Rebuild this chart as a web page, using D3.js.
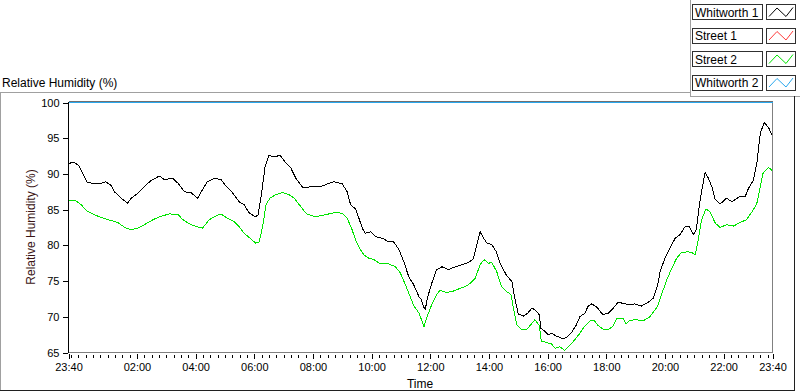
<!DOCTYPE html>
<html lang="en">
<head>
    <meta charset="UTF-8">
    <title>Relative Humidity</title>
    <style>
        body { margin: 0; background: #fff; }
        svg { display: block; font-family: "Liberation Sans", Arial, sans-serif; }
    </style>
</head>
<body>
    <svg width="800" height="392" id="svg"></svg>
    <script src="https://d3js.org/d3.v7.min.js"></script>
    <script>
        // readings: minutes after 23:40, relative humidity (%)
        let w1Min = [1, 12, 22, 29, 38, 50, 63, 76, 87, 94, 108, 121, 128, 142, 155, 169, 186, 196, 213, 224,
            237, 250, 264, 274, 284, 298, 312, 322, 335, 349, 359, 370, 383, 388, 395, 402, 410, 421, 433, 445,
            455, 465, 479, 498, 519, 533, 543, 560, 570, 577, 587, 594, 601, 607, 618, 628, 642, 655, 665, 676,
            686, 696, 706, 717, 722, 726, 730, 734, 743, 753, 764, 777, 791, 805, 818, 828, 834, 842, 849, 856,
            866, 875, 883, 895, 907, 914, 920, 931, 939, 948, 954, 963, 966, 974, 981, 988, 998, 1012, 1020, 1029,
            1039, 1046, 1056, 1063, 1070, 1080, 1087, 1093, 1104, 1114, 1124, 1134, 1145, 1158, 1172, 1185, 1196, 1205, 1210, 1220,
            1230, 1241, 1251, 1261, 1270, 1278, 1284, 1292, 1302, 1309, 1316, 1323, 1333, 1346, 1357, 1374, 1384, 1391, 1401, 1408,
            1415, 1423, 1432, 1439]
        let w1Val = [91.5, 91.6, 91.1, 90.1, 88.8, 88.7, 88.6, 88.9, 88.4, 87.5, 86.6, 85.9, 86.6, 87.3, 88.2, 89.1, 89.7, 89.2, 89.4, 88.7,
            87.5, 87.4, 86.6, 87.8, 88.9, 89.4, 89.2, 88.3, 87.4, 86.1, 85.7, 84.5, 84.0, 84.3, 87.3, 91.0, 92.6, 92.4, 92.6, 91.5,
            90.8, 89.4, 88.1, 88.2, 88.3, 88.7, 88.9, 88.6, 87.5, 85.7, 85.1, 83.8, 82.4, 81.7, 81.9, 81.2, 81.0, 80.5, 80.5, 79.4,
            77.7, 75.6, 74.5, 72.8, 72.4, 71.4, 71.1, 72.6, 74.7, 76.6, 77.0, 76.6, 77.0, 77.3, 77.6, 78.1, 79.8, 81.9, 81.0, 80.3,
            80.1, 79.1, 77.5, 75.9, 74.9, 72.2, 70.4, 70.1, 70.5, 71.2, 71.0, 70.3, 68.4, 68.0, 67.5, 67.7, 67.3, 66.9, 67.2, 67.8,
            68.9, 70.0, 70.5, 71.5, 71.8, 71.4, 70.8, 70.3, 70.5, 71.2, 72.0, 71.9, 71.7, 71.8, 71.5, 72.0, 72.6, 74.4, 76.3, 78.2,
            79.6, 81.0, 81.5, 82.6, 82.6, 81.5, 82.2, 86.4, 90.2, 89.4, 88.2, 86.4, 85.8, 86.6, 86.1, 86.9, 86.8, 88.0, 89.1, 91.5,
            95.7, 97.2, 96.5, 95.4]

        let s2Min = [1, 16, 26, 36, 50, 63, 81, 101, 115, 128, 142, 155, 173, 190, 207, 224, 234, 250, 264, 274,
            288, 301, 312, 325, 339, 349, 359, 373, 383, 390, 397, 404, 412, 424, 438, 451, 462, 472, 481, 488,
            505, 526, 546, 560, 570, 580, 587, 597, 604, 614, 625, 638, 655, 669, 679, 689, 699, 706, 717, 722,
            727, 734, 743, 753, 760, 774, 787, 798, 811, 822, 832, 842, 850, 859, 866, 876, 886, 897, 905, 912,
            917, 927, 937, 948, 954, 963, 967, 978, 988, 995, 1005, 1015, 1025, 1036, 1046, 1056, 1066, 1075, 1083, 1093,
            1104, 1114, 1121, 1134, 1141, 1148, 1162, 1175, 1189, 1199, 1205, 1214, 1224, 1234, 1244, 1254, 1266, 1275, 1282, 1288,
            1295, 1304, 1312, 1323, 1333, 1346, 1360, 1374, 1387, 1401, 1408, 1415, 1421, 1432, 1439]
        let s2Val = [86.3, 86.2, 85.7, 84.9, 84.4, 84.0, 83.6, 83.2, 82.5, 82.2, 82.4, 82.9, 83.6, 84.1, 84.4, 84.3, 83.6, 82.9, 82.6, 82.4,
            83.6, 84.1, 84.4, 83.8, 83.3, 82.6, 81.7, 80.9, 80.3, 80.5, 82.6, 85.7, 86.6, 87.1, 87.4, 87.1, 86.6, 85.7, 84.9, 84.4,
            84.0, 84.3, 84.6, 84.5, 83.8, 82.2, 80.8, 79.4, 78.7, 78.2, 78.0, 77.4, 77.4, 77.0, 76.1, 74.5, 72.8, 71.6, 70.5, 69.6,
            68.6, 70.1, 71.7, 73.1, 73.7, 73.4, 73.6, 73.9, 74.2, 74.7, 75.4, 77.3, 78.0, 77.5, 77.6, 76.3, 74.2, 73.5, 73.1, 70.5,
            68.9, 68.2, 68.2, 69.1, 69.6, 68.8, 66.6, 66.4, 66.2, 65.6, 65.8, 65.3, 66.0, 66.8, 67.7, 68.7, 69.4, 69.5, 68.8, 68.3,
            68.2, 68.7, 69.7, 69.8, 69.0, 69.5, 69.6, 69.4, 70.0, 70.9, 71.5, 73.3, 75.2, 76.8, 78.2, 79.0, 79.1, 79.0, 78.7, 80.8,
            83.6, 85.1, 84.7, 83.1, 82.5, 82.9, 82.7, 83.2, 83.6, 85.0, 85.9, 88.2, 90.2, 90.9, 90.5]

        // Street 1 has no points inside the visible range
        let s1Min = []
        let s1Val = []
        let w2Min = [0, 1440]
        let w2Val = [100, 100]

        let yTicks = [65, 70, 75, 80, 85, 90, 95, 100]
        let majorHours = [2, 4, 6, 8, 10, 12, 14, 16, 18, 20, 22]
        let seriesNames = ['Whitworth 1', 'Street 1', 'Street 2', 'Whitworth 2']
        let seriesColors = ['#000000', '#ff3c3c', '#00e400', '#2aa8ee']

        var svg = d3.select("svg")
        var start = new Date(2024, 0, 1, 23, 40)
        var toDate = function (m) { return d3.timeMinute.offset(start, m) }
        var end = toDate(1440)

        var plotL = 68.5, plotR = 772.5, plotT = 102.5, plotB = 352.5

        var xScale = d3.scaleTime().domain([start, end]).range([plotL, plotR])
        var yScale = d3.scaleLinear().domain([65, 100]).range([plotB, plotT])

        // outer frame
        var frame = svg.append("g").attr("shape-rendering", "crispEdges")
        frame.append("line").attr("x1", 0).attr("x2", 690).attr("y1", 92.5).attr("y2", 92.5).attr("stroke", "#a0a0a0")
        frame.append("line").attr("x1", 690.5).attr("x2", 690.5).attr("y1", 0).attr("y2", 96.5).attr("stroke", "#a0a0a0")
        frame.append("line").attr("x1", 690).attr("x2", 800).attr("y1", 96.5).attr("y2", 96.5).attr("stroke", "#a0a0a0")
        frame.append("line").attr("x1", 0.5).attr("x2", 0.5).attr("y1", 92).attr("y2", 391).attr("stroke", "#a0a0a0")
        frame.append("line").attr("x1", 0).attr("x2", 795).attr("y1", 390.5).attr("y2", 390.5).attr("stroke", "#202020")
        frame.append("line").attr("x1", 794.5).attr("x2", 794.5).attr("y1", 96).attr("y2", 391).attr("stroke", "#202020")

        svg.append("text").attr("x", 2).attr("y", 87).attr("font-size", 12).text("Relative Humidity (%)")

        // plot area borders
        var plot = svg.append("g").attr("shape-rendering", "crispEdges")
        plot.append("line").attr("x1", plotR).attr("x2", plotR).attr("y1", plotT - 1).attr("y2", plotB).attr("stroke", "#808080")
        plot.append("line").attr("x1", plotL).attr("x2", plotR).attr("y1", plotB).attr("y2", plotB).attr("stroke", "#808080")
        plot.append("line").attr("x1", plotL).attr("x2", plotR).attr("y1", plotT - 1).attr("y2", plotT - 1).attr("stroke", "#707070")

        // y axis
        var yAxis = svg.append("g")
            .attr("transform", "translate(" + (plotL - 1) + ",0)")
            .call(d3.axisLeft(yScale).tickValues(yTicks).tickSize(5).tickPadding(3).tickSizeOuter(0))
        yAxis.select(".domain").remove()
        yAxis.selectAll("text").attr("font-size", 11).attr("font-family", "Liberation Sans, Arial, sans-serif").attr("fill", "#000")
        plot.append("line").attr("x1", plotL).attr("x2", plotL).attr("y1", plotT - 1).attr("y2", plotB + 0.5).attr("stroke", "#000")

        // x axis: minor ticks every 15 min, major every 2 h plus both ends
        var majors = [start].concat(majorHours.map(function (h) {
            return new Date(2024, 0, 2, h, 0)
        })).concat([end])
        var minors = d3.timeMinute.every(15).range(start, end)

        var xMinor = svg.append("g")
            .attr("transform", "translate(0," + (plotB + 2) + ")")
            .call(d3.axisBottom(xScale).tickValues(minors).tickSize(3).tickFormat(""))
        xMinor.select(".domain").remove()

        var xAxis = svg.append("g")
            .attr("transform", "translate(0," + (plotB + 1) + ")")
            .call(d3.axisBottom(xScale).tickValues(majors).tickSize(5).tickPadding(5)
                .tickFormat(d3.timeFormat("%H:%M")))
        xAxis.select(".domain").remove()
        xAxis.selectAll("text").attr("font-size", 11).attr("font-family", "Liberation Sans, Arial, sans-serif").attr("fill", "#000")
        svg.selectAll(".tick line").attr("shape-rendering", "crispEdges")

        svg.append("text").attr("x", 420).attr("y", 388).attr("text-anchor", "middle")
            .attr("font-size", 12).text("Time")
        svg.append("text").attr("transform", "translate(35,227) rotate(-90)")
            .attr("text-anchor", "middle").attr("font-size", 12).attr("fill", "#3a1414")
            .text("Relative Humidity (%)")

        // series
        var series = [
            { mins: w1Min, vals: w1Val },
            { mins: s1Min, vals: s1Val },
            { mins: s2Min, vals: s2Val },
            { mins: w2Min, vals: w2Val }
        ]
        var line = d3.line()
            .x(function (d) { return xScale(toDate(d[0])) })
            .y(function (d) { return yScale(d[1]) })

        series.forEach(function (s, i) {
            var pts = s.mins.map(function (m, j) { return [m, s.vals[j]] })
            if (pts.length == 0) return
            svg.append("path")
                .datum(pts)
                .attr("d", line)
                .attr("fill", "none")
                .attr("stroke", seriesColors[i])
                .attr("stroke-width", 1)
                .attr("shape-rendering", "crispEdges")
        })

        // legend
        var legend = svg.append("g")
        seriesNames.forEach(function (name, i) {
            var y0 = 4.5 + i * 23.5
            var row = legend.append("g").attr("transform", "translate(0," + y0 + ")")
            row.append("rect").attr("x", 692.5).attr("y", 0).attr("width", 70).attr("height", 15)
                .attr("fill", "#fff").attr("stroke", "#303030").attr("shape-rendering", "crispEdges")
            row.append("rect").attr("x", 766.5).attr("y", 0).attr("width", 29).attr("height", 15)
                .attr("fill", "#fff").attr("stroke", "#303030").attr("shape-rendering", "crispEdges")
            row.append("polyline")
                .attr("points", "769,12 777,3.5 786,12 793,3")
                .attr("fill", "none").attr("stroke", seriesColors[i])
            row.append("text").attr("x", 695).attr("y", 12).attr("font-size", 12).text(name)
        })
    </script>
</body>
</html>
